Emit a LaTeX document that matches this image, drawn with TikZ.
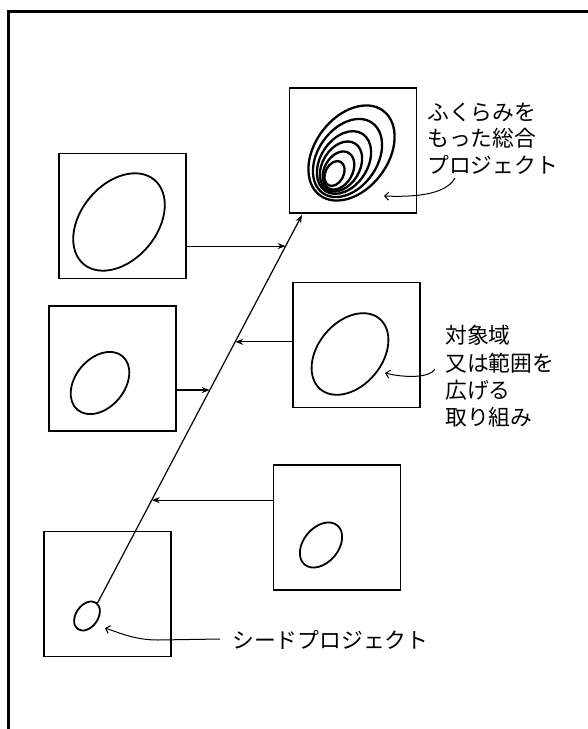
\documentclass[tikz,border=0pt]{standalone}
\usepackage{fontspec}
\newfontfamily\jp{Noto Sans CJK JP}
\usetikzlibrary{arrows.meta}
\begin{document}
\begin{tikzpicture}[x=1pt,y=-1pt,
  panel/.style={draw,line width=1.8pt,minimum width=127pt,minimum height=125pt,inner sep=0pt},
  oval/.style={line width=1.8pt},
  nest/.style={line width=2.3pt},
  conn/.style={line width=1.2pt,-{Stealth[length=8pt,width=6pt]}},
  callout/.style={line width=1pt,-{Straight Barb[length=4pt,width=8pt]}},
  lbl/.style={anchor=base west,inner sep=0pt,font=\jp\fontsize{21.8}{27}\selectfont}]
\useasboundingbox (0,0) rectangle (588,729);
% frame
\draw[line width=2.7pt] (8.7,729) -- (8.7,11.3) -- (588,11.3);
% panels
\node[panel] (top) at (353,150.5) {};
\node[panel] (l1) at (122.5,216) {};
\node[panel] (l2) at (112.5,368.5) {};
\node[panel] (r2) at (356.5,345) {};
\node[panel] (r3) at (337,527.5) {};
\node[panel] (sd) at (107.5,594) {};
% ovals
\draw[oval,shift={(119,222)},rotate=50] (0,0) ellipse [x radius=55pt,y radius=38pt];
\draw[oval,shift={(100,383)},rotate=50] (0,0) ellipse [x radius=35pt,y radius=24.5pt];
\draw[oval,shift={(350,354)},rotate=50] (0,0) ellipse [x radius=46pt,y radius=32pt];
\draw[oval,shift={(321,545)},rotate=50] (0,0) ellipse [x radius=25.5pt,y radius=17.5pt];
\draw[oval,shift={(87,616)},rotate=55] (0,0) ellipse [x radius=16pt,y radius=11pt];
% nested ovals
\foreach \cx/\cy/\s/\r in {351.5/153/0.96/53,347.5/158/0.78/55,344/162.5/0.62/57,341/166.5/0.49/59,338.5/170.5/0.37/61,334.5/173.5/0.24/63}
  \draw[nest,shift={(\cx,\cy)},rotate=\r] (0,0) ellipse [x radius=55*\s pt,y radius=38*\s pt];
% diagonal
\coordinate (p0) at (97,604);
\coordinate (p1) at (302,215);
\draw[conn] (p0) -- (p1);
\path (p0) -- (p1) coordinate[pos=0.920] (d1) coordinate[pos=0.550] (d2)
                   coordinate[pos=0.674] (d3) coordinate[pos=0.267] (d4);
\draw[conn] (l1.east |- d1) -- (d1);
\draw[conn] (l2.east |- d2) -- (d2);
\draw[conn] (r2.west |- d3) -- (d3);
\draw[conn] (r3.west |- d4) -- (d4);
% labels
\node[lbl] (a1) at (427,120) {ふくらみを};
\node[lbl] (a2) at (427,146) {もった総合};
\node[lbl] (a3) at (427,173) {プロジェクト};
\node[lbl] (b1) at (445,343) {対象域};
\node[lbl] (b2) at (445,371) {又は範囲を};
\node[lbl] (b3) at (445,398) {広げる};
\node[lbl] (b4) at (445,425) {取り組み};
\node[lbl] (c1) at (232,648) {シードプロジェクト};
% callouts
\coordinate (ta) at (384,196);
\coordinate (tb) at (385,373);
\coordinate (tc) at (105,628);
\coordinate (sa) at (455,178);
\coordinate (sb) at (435,369);
\coordinate (sc) at (220,639);
\draw[callout] (sa) .. controls (445,196) and (410,197) .. (ta);
\draw[callout] (sb) .. controls (430,378) and (405,378) .. (tb);
\draw[callout] (sc) -- (158,640) .. controls (135,640) and (120,633) .. (tc);
\end{tikzpicture}
\end{document}
